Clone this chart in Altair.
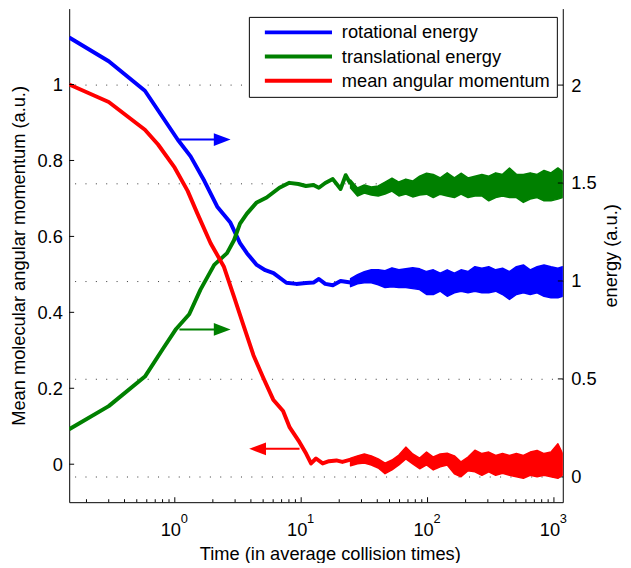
import altair as alt
import pandas as pd

# ---------------- data ----------------
SERIES = ["rotational energy", "translational energy", "mean angular momentum"]
COLORS = ["#0000ff", "#008000", "#ff0000"]

# smooth early part of each curve (time in collision times, value)
t_rot = [0.146, 0.300, 0.580, 1.056, 1.333, 1.715, 2.167, 2.74, 3.28, 3.72, 4.45, 5.2,
         6.04, 7.64, 9.14, 10.9, 12.5, 13.8, 15.5, 17.8, 20.5, 24.6]
e_rot = [2.243, 2.122, 1.971, 1.721, 1.636, 1.510, 1.379, 1.300, 1.193, 1.142, 1.082, 1.055,
         1.040, 0.991, 0.985, 0.990, 0.992, 1.010, 0.985, 0.978, 1.000, 0.992]

t_tra = [0.146, 0.300, 0.580, 0.806, 1.024, 1.30, 1.596, 2.05, 2.59, 2.94, 3.28, 3.72, 4.45,
         5.33, 6.73, 8.06, 9.5, 10.9, 12.5, 13.8, 15.5, 17.8, 20.5, 22.5, 24.6]
e_tra = [0.243, 0.361, 0.512, 0.654, 0.755, 0.830, 0.956, 1.082, 1.142, 1.208, 1.293, 1.344, 1.401,
         1.426, 1.476, 1.501, 1.495, 1.485, 1.490, 1.476, 1.500, 1.520, 1.470, 1.540, 1.495]

t_mom = [0.146, 0.300, 0.580, 0.737, 0.998, 1.263, 1.51, 1.92, 2.44, 2.93, 3.50, 4.19, 5.02,
         6.01, 7.19, 8.11, 9.70, 10.94, 11.97, 13.1, 14.8, 16.6, 19.0, 21.2, 24.6]
m_mom = [1.000, 0.954, 0.881, 0.842, 0.781, 0.720, 0.660, 0.582, 0.521, 0.443, 0.365, 0.287, 0.227,
         0.170, 0.140, 0.097, 0.058, 0.028, 0.002, 0.015, 0.002, 0.008, 0.010, 0.006, 0.012]

# noisy late part: upper / lower envelope of each curve
t_band = [24.6, 27.9, 31.6, 35.9, 40.7, 46.1, 52.3, 59.3, 67.3, 76.3, 86.6, 98.2, 111, 126, 143,
          163, 184, 209, 237, 269, 305, 346, 392, 445, 505, 573, 649, 736, 835, 948, 1075, 1170]
rot_hi = [1.012, 1.032, 1.047, 1.057, 1.057, 1.052, 1.067, 1.057, 1.062, 1.067, 1.062, 1.048, 1.057,
          1.040, 1.057, 1.040, 1.057, 1.048, 1.073, 1.065, 1.073, 1.057, 1.065, 1.048, 1.073, 1.082,
          1.057, 1.073, 1.082, 1.073, 1.065, 1.073]
rot_lo = [0.971, 0.986, 0.991, 0.991, 0.981, 0.966, 0.971, 0.966, 0.966, 0.961, 0.956, 0.931, 0.931,
          0.948, 0.922, 0.940, 0.948, 0.940, 0.948, 0.940, 0.940, 0.948, 0.931, 0.906, 0.931, 0.940,
          0.931, 0.940, 0.922, 0.914, 0.914, 0.922]
tra_hi = [1.515, 1.475, 1.490, 1.480, 1.485, 1.505, 1.525, 1.505, 1.520, 1.510, 1.535, 1.550, 1.544,
          1.526, 1.552, 1.526, 1.550, 1.526, 1.535, 1.544, 1.535, 1.552, 1.544, 1.577, 1.544, 1.544,
          1.552, 1.544, 1.564, 1.552, 1.577, 1.560]
tra_lo = [1.474, 1.434, 1.449, 1.439, 1.434, 1.444, 1.459, 1.434, 1.444, 1.429, 1.439, 1.443, 1.426,
          1.443, 1.434, 1.426, 1.443, 1.426, 1.434, 1.434, 1.409, 1.426, 1.434, 1.426, 1.426, 1.401,
          1.418, 1.426, 1.409, 1.409, 1.418, 1.426]
mom_hi = [0.016, 0.022, 0.027, 0.022, 0.014, 0.003, 0.011, 0.024, 0.045, 0.027, 0.016, 0.032, 0.019,
          0.027, 0.029, 0.022, 0.006, 0.019, 0.037, 0.028, 0.032, 0.023, 0.028, 0.023, 0.028, 0.023,
          0.032, 0.036, 0.028, 0.032, 0.054, 0.028]
mom_lo = [-0.004, 0.001, 0.003, -0.002, -0.010, -0.025, -0.015, -0.002, 0.014, 0.001, -0.012, -0.002,
          -0.015, -0.007, -0.002, -0.025, -0.033, -0.017, -0.020, -0.029, -0.020, -0.029, -0.024,
          -0.029, -0.033, -0.037, -0.029, -0.033, -0.029, -0.033, -0.037, -0.029]

# annotation arrows (time from, time to, arrow-head time, left-axis value)
arr_t0 = [1.088, 1.088, 9.70]
arr_t1 = [2.053, 2.053, 5.17]
arr_th = [2.371, 2.371, 4.52]
arr_v = [0.855, 0.355, 0.0405]
arr_dir = ["right", "right", "left"]

# axis ticks
x_major = [1, 10, 100, 1000]
x_exp = ["0", "1", "2", "3"]
x_minor = [0.2, 0.3, 0.4, 0.5, 0.6, 0.7, 0.8, 0.9, 2, 3, 4, 5, 6, 7, 8, 9,
           20, 30, 40, 50, 60, 70, 80, 90, 200, 300, 400, 500, 600, 700, 800, 900]
left_ticks = [0, 0.2, 0.4, 0.6, 0.8, 1]
right_ticks = [0, 0.5, 1, 1.5, 2]

# ---------------- chart ----------------
W, H = 500, 500
FONT = "Liberation Sans"
FS = 18.5

XSCALE = alt.Scale(type="log", domain=[0.146, 1175], nice=False)
LSCALE = alt.Scale(domain=[-0.1, 1.2], nice=False, zero=False)
RSCALE = alt.Scale(domain=[-0.1293, 2.3905], nice=False, zero=False)

XAXIS = alt.Axis(values=x_major, labelExpr="'10'", ticks=False, tickSize=0, grid=False,
                 domainColor="black", domainWidth=1, labelFont=FONT, labelFontSize=FS,
                 labelColor="black", labelPadding=18.5, labelOffset=-4.5,
                 title="Time (in average collision times)", titleFont=FONT, titleFontSize=FS,
                 titleFontWeight="normal", titleColor="black", titleBaseline="alphabetic",
                 titleAlign="center", titleX=264, titleY=58)
LAXIS = alt.Axis(orient="left", values=left_ticks, format="~g", ticks=False, tickSize=0, grid=False,
                 domainColor="black", domainWidth=1, labelFont=FONT, labelFontSize=FS,
                 labelColor="black", labelPadding=7,
                 title="Mean molecular angular momentum (a.u.)", titleFont=FONT, titleFontSize=FS,
                 titleFontWeight="normal", titleColor="black", titleAngle=270,
                 titleBaseline="alphabetic", titleAlign="center", titleX=-45, titleY=250)
RAXIS = alt.Axis(orient="right", values=right_ticks, format="~g", ticks=False, tickSize=0, grid=True,
                 gridDash=[1, 9.5], gridColor="#333333", gridWidth=1,
                 domainColor="black", domainWidth=1, labelFont=FONT, labelFontSize=FS,
                 labelColor="black", labelPadding=8,
                 title="energy (a.u.)", titleFont=FONT, titleFontSize=FS,
                 titleFontWeight="normal", titleColor="black", titleAngle=270,
                 titleBaseline="alphabetic", titleAlign="center", titleX=54, titleY=250)

LEGEND = alt.Legend(orient="none", legendX=182, legendY=8.4, title=None, symbolType="stroke",
                    symbolSize=4624, symbolStrokeWidth=4, labelFont=FONT, labelFontSize=FS,
                    labelColor="black", labelLimit=0, labelExpr="datum.label + ' '",
                    strokeColor="black", fillColor="white",
                    padding=6.2, rowPadding=5.5, clipHeight=19, symbolOffset=8, labelOffset=8,
                    cornerRadius=0)
COLOR = alt.Color("s:N", scale=alt.Scale(domain=SERIES, range=COLORS), legend=LEGEND)

rot = pd.DataFrame({"t": t_rot, "v": e_rot, "s": SERIES[0]})
tra = pd.DataFrame({"t": t_tra, "v": e_tra, "s": SERIES[1]})
mom = pd.DataFrame({"t": t_mom, "v": m_mom, "s": SERIES[2]})


def band(hi, lo, color, yscale, yaxis):
    df = pd.DataFrame({"t": t_band, "hi": hi, "lo": lo})
    return alt.Chart(df).mark_area(color=color, stroke=color, strokeWidth=1.5,
                                   strokeJoin="round", clip=True).encode(
        x=alt.X("t:Q", scale=XSCALE, axis=XAXIS),
        y=alt.Y("hi:Q", scale=yscale, axis=yaxis),
        y2="lo:Q")


line_e = alt.Chart(pd.concat([rot, tra])).mark_line(strokeWidth=4, strokeJoin="round", clip=True).encode(
    x=alt.X("t:Q", scale=XSCALE, axis=XAXIS),
    y=alt.Y("v:Q", scale=RSCALE, axis=RAXIS),
    color=COLOR)
line_m = alt.Chart(mom).mark_line(strokeWidth=4, strokeJoin="round", clip=True).encode(
    x=alt.X("t:Q", scale=XSCALE, axis=XAXIS),
    y=alt.Y("v:Q", scale=LSCALE, axis=LAXIS),
    color=COLOR)

xt_major = alt.Chart(pd.DataFrame({"tv": x_major})).mark_rule(color="black", strokeWidth=1).encode(
    x=alt.X("tv:Q", scale=XSCALE, axis=XAXIS), y=alt.value(H), y2=alt.value(H - 5))
xt_minor = alt.Chart(pd.DataFrame({"tv": x_minor})).mark_rule(color="black", strokeWidth=1).encode(
    x=alt.X("tv:Q", scale=XSCALE, axis=XAXIS), y=alt.value(H), y2=alt.value(H - 3))
sup = alt.Chart(pd.DataFrame({"tv": x_major, "ex": x_exp})).mark_text(
    align="left", baseline="alphabetic", dx=6, font=FONT, fontSize=13, color="black").encode(
    x=alt.X("tv:Q", scale=XSCALE, axis=XAXIS), y=alt.value(H + 21), text="ex:N")
rt = alt.Chart(pd.DataFrame({"yv": right_ticks})).mark_rule(color="black", strokeWidth=1).encode(
    y=alt.Y("yv:Q", scale=RSCALE, axis=RAXIS), x=alt.value(W - 5), x2=alt.value(W))
lt = alt.Chart(pd.DataFrame({"yv": left_ticks})).mark_rule(color="black", strokeWidth=1).encode(
    y=alt.Y("yv:Q", scale=LSCALE, axis=LAXIS), x=alt.value(0), x2=alt.value(5))

arrows = pd.DataFrame({
    "t0": arr_t0, "t1": arr_t1, "th": arr_th, "v": arr_v, "c": COLORS,
    "sh": ["M1,0L-1,-0.76L-1,0.76Z" if d == "right" else "M-1,0L1,-0.76L1,0.76Z" for d in arr_dir],
})
arr_line = alt.Chart(arrows).mark_rule(strokeWidth=2).encode(
    x=alt.X("t0:Q", scale=XSCALE, axis=XAXIS), x2="t1:Q",
    y=alt.Y("v:Q", scale=LSCALE, axis=LAXIS),
    color=alt.Color("c:N", scale=None))
arr_head = alt.Chart(arrows).mark_point(filled=True, size=289, opacity=1, strokeWidth=0).encode(
    x=alt.X("th:Q", scale=XSCALE, axis=XAXIS),
    y=alt.Y("v:Q", scale=LSCALE, axis=LAXIS),
    shape=alt.Shape("sh:N", scale=None),
    color=alt.Color("c:N", scale=None))

right = alt.layer(
    band(rot_hi, rot_lo, COLORS[0], RSCALE, RAXIS),
    band(tra_hi, tra_lo, COLORS[1], RSCALE, RAXIS),
    line_e, xt_major, xt_minor, sup, rt)
left = alt.layer(
    band(mom_hi, mom_lo, COLORS[2], LSCALE, LAXIS),
    line_m, arr_line, arr_head, lt)

chart = alt.layer(right, left).resolve_scale(y="independent").properties(
    width=W, height=H,
    autosize=alt.AutoSizeParams(type="none"),
    padding={"left": 62, "top": -3, "right": 61, "bottom": 58},
).configure_view(stroke=None)

chart.save("out.html", embed_options={"renderer": "svg", "actions": False})
